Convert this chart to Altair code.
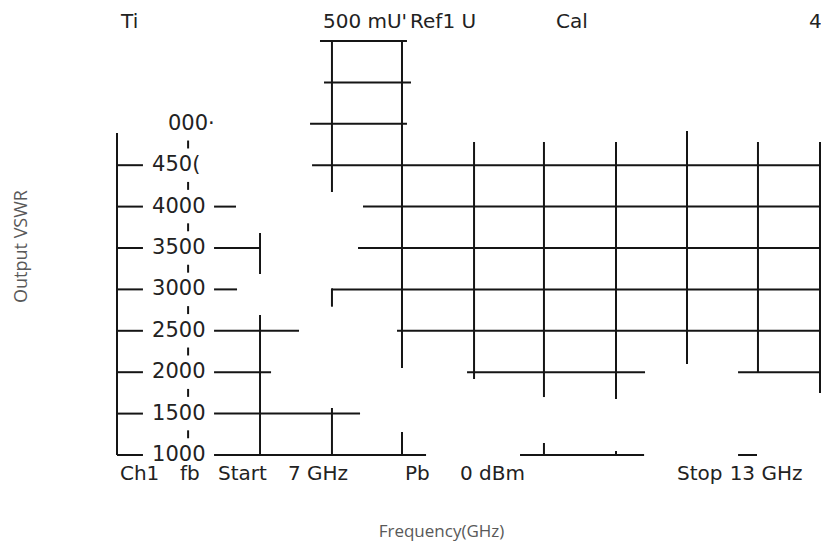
import altair as alt
import pandas as pd

# ---- horizontal grid fragments: level (VSWR axis units), start / end frequency (GHz)
h_level = [6000, 5500, 5000,
           4500, 4500,
           4000, 4000, 4000,
           3500, 3500, 3500,
           3000, 3000, 3000,
           2500, 2500, 2500,
           2000, 2000, 2000, 2000,
           1500, 1500,
           1000, 1000, 1000, 1000]
h_start = [8.713, 8.747, 8.629,
           7.0, 8.646,
           7.0, 7.819, 9.076,
           7.0, 7.819, 9.034,
           7.0, 7.819, 8.814,
           7.0, 7.819, 9.363,
           7.0, 7.819, 9.954, 12.241,
           7.0, 7.819,
           7.0, 7.819, 10.401, 12.241]
h_end = [9.447, 9.481, 9.447,
         7.219, 13.0,
         7.219, 8.004, 13.0,
         7.219, 8.207, 13.0,
         7.219, 8.013, 13.0,
         7.219, 8.536, 13.0,
         7.219, 8.300, 11.456, 13.0,
         7.219, 9.051,
         7.219, 9.608, 11.448, 12.401]

# ---- vertical grid fragments: frequency (GHz), low / high level
v_freq = [7.0,
          7.6, 7.6, 7.6, 7.6, 7.6, 7.6, 7.6, 7.6,
          8.207, 8.207,
          8.814, 8.814, 8.814,
          9.405, 9.405,
          10.013,
          10.603, 10.603,
          11.211, 11.211,
          11.810,
          12.409,
          13.0]
v_low = [1000,
         1202, 1702, 2202, 2702, 3202, 3702, 4202, 4702,
         3186, 1000,
         4176, 2791, 1000,
         2051, 1000,
         1918,
         1700, 1000,
         1676, 1000,
         2099,
         2002,
         1749]
v_high = [4889,
          1298, 1798, 2298, 2798, 3298, 3798, 4298, 4798,
          3681, 2691,
          6000, 3013, 1568,
          6000, 1278,
          4780,
          4780, 1145,
          4780, 1048,
          4913,
          4780,
          4780]

# ---- scale labels drawn on the analyzer screen
lab_level = [1000, 1500, 2000, 2500, 3000, 3500, 4000, 4500, 5000]
lab_text = ["1000", "1500", "2000", "2500", "3000", "3500", "4000", "450(", "000·"]
lab_freq = [7.296, 7.296, 7.296, 7.296, 7.296, 7.296, 7.296, 7.296, 7.43]

# ---- analyzer annotation texts
ann_text = ["Ti", "500 mU'", "Ref1 U", "Cal", "4",
            "Ch1", "fb", "Start", "7 GHz", "Pb", "0 dBm", "Stop", "13 GHz"]
ann_freq = [7.034, 8.738, 9.473, 10.705, 12.84,
            7.025, 7.532, 7.852, 8.443, 9.430, 9.894, 11.726, 12.17]
ann_level = [6235, 6235, 6235, 6235, 6235,
             770, 770, 770, 770, 770, 770, 770, 770]

hdf = pd.DataFrame({"y": h_level, "x1": h_start, "x2": h_end})
vdf = pd.DataFrame({"x": v_freq, "y1": v_low, "y2": v_high})
ldf = pd.DataFrame({"y": lab_level, "x": lab_freq, "t": lab_text})
adf = pd.DataFrame({"y": ann_level, "x": ann_freq, "t": ann_text})

# the screen's right edge (13 GHz) sits at the page edge; clamp keeps it visible
xscale = alt.Scale(domain=[7, 12.9325], nice=False, zero=False, clamp=True)
yscale = alt.Scale(domain=[1000, 6000], nice=False, zero=False)

xaxis = alt.Axis(title="Frequency(GHz)", grid=False, domain=False, ticks=False,
                 labels=False, titleFont="Open Sans", titleFontSize=17,
                 titleFontWeight="normal", titleColor="#595959",
                 titleX=324, titleY=76, titleAlign="center", titleBaseline="middle")
yaxis = alt.Axis(title="Output VSWR", grid=False, domain=False, ticks=False,
                 labels=False, titleFont="Open Sans", titleFontSize=18,
                 titleFontWeight="normal", titleColor="#595959",
                 titleX=-96, titleY=205, titleAlign="center", titleBaseline="middle")

LINE = "#151515"
TXT = "#222222"

hrule = alt.Chart(hdf).mark_rule(color=LINE, strokeWidth=2).encode(
    x=alt.X("x1:Q", scale=xscale, axis=xaxis),
    x2="x2:Q",
    y=alt.Y("y:Q", scale=yscale, axis=yaxis),
)
vrule = alt.Chart(vdf).mark_rule(color=LINE, strokeWidth=2).encode(
    x=alt.X("x:Q", scale=xscale, axis=xaxis),
    y=alt.Y("y1:Q", scale=yscale, axis=yaxis),
    y2="y2:Q",
)
labels = alt.Chart(ldf).mark_text(font="DejaVu Sans", fontSize=21, color=TXT,
                                  align="left", baseline="middle").encode(
    x=alt.X("x:Q", scale=xscale, axis=xaxis),
    y=alt.Y("y:Q", scale=yscale, axis=yaxis),
    text="t:N",
)
notes = alt.Chart(adf).mark_text(font="DejaVu Sans", fontSize=20, color=TXT,
                                 align="left", baseline="middle").encode(
    x=alt.X("x:Q", scale=xscale, axis=xaxis),
    y=alt.Y("y:Q", scale=yscale, axis=yaxis),
    text="t:N",
)

chart = alt.layer(hrule, vrule, labels, notes).properties(
    width=703, height=414,
    autosize=alt.AutoSizeParams(type="none"),
    padding={"left": 109, "top": 33, "right": 1, "bottom": 87},
    background="white",
).configure_view(strokeWidth=0)

chart.save("out.html", embed_options={"renderer": "svg", "actions": False})
